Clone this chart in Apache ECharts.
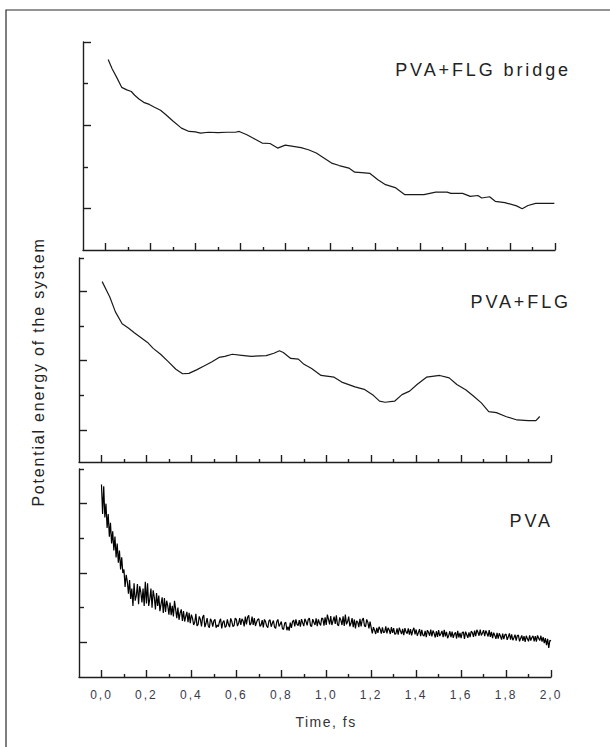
<!DOCTYPE html>
<html><head><meta charset="utf-8">
<script src="https://cdn.jsdelivr.net/npm/echarts@6.0.0/dist/echarts.min.js"></script>
<style>
html,body{margin:0;padding:0;background:#fff;}
#c{width:610px;height:747px;}
#c text{letter-spacing:1.6px;}
#c text[style*="12px"]{letter-spacing:2px;}
#c text[style*="14px"]{letter-spacing:1.5px;}
#c text[style*="16px"]{letter-spacing:1.8px;}
#c text[style*="18px"]{letter-spacing:2.9px;}
</style></head>
<body><div id="c"></div>
<script>
// ---- tick labels ----
var xTickValues = [0,0.2,0.4,0.6,0.8,1.0,1.2,1.4,1.6,1.8,2.0];
var xMinorTickValues = [0.1,0.3,0.5,0.7,0.9,1.1,1.3,1.5,1.7,1.9];
var panelNames = ['PVA+FLG bridge','PVA+FLG','PVA'];
var xTitle = 'Time, fs';
var yTitle = 'Potential energy of the system';

// ---- PVA+FLG bridge ----
var p1Time = [0.012,0.030,0.050,0.072,0.095,0.115,0.130,0.149,0.170,0.195,0.218,0.245,0.269,0.300,0.338,0.372,0.400,0.423,0.458,0.500,0.540,0.578,0.595,0.629,0.660,0.697,0.732,0.766,0.800,0.835,0.870,0.903,0.938,0.970,1.006,1.040,1.083,1.109,1.140,1.177,1.212,1.246,1.289,1.332,1.380,1.417,1.469,1.520,1.537,1.589,1.623,1.657,1.674,1.709,1.734,1.777,1.829,1.854,1.880,1.914,1.960,1.997];
var p1Energy = [3.58,3.35,3.15,2.91,2.85,2.81,2.72,2.63,2.55,2.50,2.43,2.36,2.25,2.10,1.93,1.85,1.84,1.81,1.83,1.82,1.83,1.83,1.85,1.77,1.68,1.57,1.56,1.45,1.52,1.49,1.46,1.41,1.33,1.22,1.09,1.03,0.97,0.87,0.86,0.84,0.69,0.57,0.50,0.33,0.33,0.33,0.39,0.39,0.36,0.36,0.29,0.31,0.25,0.28,0.17,0.14,0.06,-0.01,0.07,0.12,0.12,0.12];

// ---- PVA+FLG ----
var p2Time = [0.003,0.037,0.062,0.092,0.121,0.146,0.205,0.230,0.263,0.297,0.331,0.361,0.389,0.423,0.456,0.490,0.523,0.549,0.582,0.624,0.666,0.733,0.767,0.792,0.809,0.842,0.876,0.901,0.935,0.977,1.035,1.069,1.128,1.169,1.211,1.237,1.262,1.304,1.337,1.371,1.404,1.446,1.505,1.547,1.581,1.622,1.656,1.690,1.723,1.757,1.799,1.849,1.899,1.933,1.950];
var p2Energy = [4.27,3.83,3.40,3.06,2.93,2.80,2.52,2.35,2.18,1.97,1.75,1.62,1.63,1.73,1.84,1.96,2.09,2.12,2.18,2.15,2.12,2.14,2.21,2.28,2.23,2.06,2.04,1.89,1.77,1.57,1.52,1.38,1.24,1.17,0.99,0.83,0.80,0.83,1.02,1.12,1.31,1.52,1.57,1.50,1.31,1.15,0.97,0.78,0.53,0.50,0.39,0.29,0.27,0.27,0.39];

// ---- PVA (sampled every 0.005 fs from 0) ----
var p3Start = 0, p3Step = 0.005;
var p3Energy = [
 4.55,3.70,4.50,3.60,4.00,3.30,3.70,3.05,3.45,2.85,3.20,2.65,3.05,2.45,2.85,2.30,2.65,2.10,2.45,2.00,
 2.10,1.60,1.95,1.75,1.40,1.80,1.25,1.55,1.05,1.70,1.20,1.35,1.68,1.10,1.62,1.45,1.15,1.55,1.05,1.75,
 1.12,1.70,1.05,1.25,1.55,1.00,1.50,1.30,0.95,1.42,1.05,1.35,0.90,1.10,1.30,0.85,1.28,0.88,1.20,1.05,
 0.80,1.15,0.78,1.05,0.75,1.20,0.95,0.70,1.00,0.65,0.85,0.95,0.62,0.90,0.60,0.75,0.88,0.58,0.85,0.55,
 0.80,0.70,0.50,0.58,0.82,0.47,0.52,0.75,0.66,0.46,0.72,0.79,0.44,0.55,0.70,0.48,0.42,0.68,0.61,0.45,
 0.62,0.66,0.42,0.50,0.45,0.60,0.68,0.40,0.58,0.63,0.43,0.47,0.66,0.52,0.44,0.69,0.60,0.45,0.49,0.70,
 0.66,0.47,0.55,0.70,0.50,0.68,0.62,0.46,0.74,0.52,0.72,0.78,0.50,0.54,0.74,0.50,0.70,0.47,0.58,0.66,
 0.68,0.46,0.50,0.64,0.43,0.66,0.60,0.47,0.42,0.62,0.65,0.45,0.55,0.63,0.44,0.40,0.60,0.66,0.46,0.52,
 0.60,0.40,0.37,0.55,0.58,0.35,0.45,0.34,0.57,0.42,0.60,0.64,0.46,0.66,0.52,0.48,0.64,0.45,0.67,0.56,
 0.47,0.68,0.60,0.49,0.66,0.70,0.48,0.46,0.67,0.58,0.50,0.69,0.47,0.66,0.55,0.49,0.70,0.68,0.48,0.72,
 0.50,0.80,0.66,0.52,0.76,0.50,0.62,0.74,0.53,0.78,0.51,0.48,0.72,0.64,0.50,0.75,0.47,0.80,0.52,0.60,
 0.74,0.46,0.55,0.70,0.44,0.66,0.40,0.62,0.58,0.44,0.68,0.46,0.64,0.70,0.48,0.45,0.66,0.58,0.40,0.60,
 0.42,0.26,0.44,0.35,0.24,0.42,0.27,0.45,0.38,0.25,0.43,0.28,0.30,0.46,0.26,0.42,0.36,0.24,0.44,0.27,
 0.41,0.23,0.25,0.40,0.22,0.42,0.33,0.24,0.39,0.21,0.41,0.30,0.25,0.40,0.22,0.38,0.20,0.34,0.42,0.23,
 0.37,0.19,0.28,0.38,0.18,0.36,0.21,0.18,0.33,0.15,0.35,0.29,0.19,0.37,0.17,0.34,0.26,0.14,0.32,0.16,
 0.35,0.18,0.25,0.33,0.15,0.36,0.17,0.30,0.12,0.20,0.32,0.15,0.31,0.13,0.24,0.29,0.11,0.33,0.14,0.27,
 0.12,0.28,0.30,0.10,0.31,0.22,0.13,0.29,0.15,0.32,0.28,0.16,0.34,0.18,0.36,0.29,0.19,0.37,0.20,0.27,
 0.35,0.18,0.34,0.26,0.17,0.35,0.16,0.30,0.12,0.28,0.20,0.10,0.27,0.11,0.26,0.18,0.08,0.25,0.09,0.22,
 0.24,0.07,0.16,0.26,0.08,0.23,0.06,0.13,0.22,0.05,0.19,0.21,0.03,0.12,0.20,0.04,0.18,0.01,0.19,0.10,
 0.03,0.20,0.05,0.14,0.19,0.03,0.18,0.02,0.20,0.12,0.05,0.19,0.02,0.15,-0.02,0.12,-0.08,0.10,-0.16,0.06,
 0.04
];

// ---- y tick positions (arbitrary energy units, no labels) ----
var yMajorTicks = [0,2,4];
var yMinorTicks = [[1,3],[1,3,4.95],[1,3,5]];
var yRanges = [[-1,4],[-0.92,4.95],[-1,5]];

function zip(a,b){var r=[];for(var i=0;i<a.length;i++)r.push([a[i],b[i]]);return r;}
var p3Data = p3Energy.map(function(v,i){return [+(p3Start+i*p3Step).toFixed(3), v];});

var grids = [
  {left:83, top:42, width:472, height:208},
  {left:79, top:258, width:472, height:204},
  {left:79, top:469, width:472, height:208}
];
var axisColor = '#1e1e1e';
var xAxes = [], yAxes = [];
grids.forEach(function(g,gi){
  var last = gi===2;
  xAxes.push({type:'value', gridIndex:gi, min:-0.1, max:2.0, position:'bottom',
    axisLine:{show:true, onZero:false, lineStyle:{color:axisColor, width:1.4}},
    axisTick:{show:true, inside:true, length:7, customValues:xTickValues, lineStyle:{color:axisColor,width:1.4}},
    axisLabel:{show:last, customValues:xTickValues, margin:12, fontFamily:'Liberation Sans', fontSize:12, color:'#3a3a4a',
      formatter:function(v){return v.toFixed(1).replace('.',',');}},
    splitLine:{show:false}});
  xAxes.push({type:'value', gridIndex:gi, min:-0.1, max:2.0, position:'bottom',
    axisLine:{show:false, onZero:false},
    axisTick:{show:true, inside:true, length:3, customValues:xMinorTickValues, lineStyle:{color:axisColor,width:1.4}},
    axisLabel:{show:false}, splitLine:{show:false}});
  yAxes.push({type:'value', gridIndex:gi, min:yRanges[gi][0], max:yRanges[gi][1], position:'left',
    axisLine:{show:true, onZero:false, lineStyle:{color:axisColor, width:1.4}},
    axisTick:{show:true, inside:true, length:8, customValues:yMajorTicks, lineStyle:{color:axisColor,width:1.4}},
    axisLabel:{show:false}, splitLine:{show:false}});
  yAxes.push({type:'value', gridIndex:gi, min:yRanges[gi][0], max:yRanges[gi][1], position:'left',
    axisLine:{show:false, onZero:false},
    axisTick:{show:true, inside:true, length:5, customValues:yMinorTicks[gi], lineStyle:{color:axisColor,width:1.4}},
    axisLabel:{show:false}, splitLine:{show:false}});
});

var lineCol = '#1a1a1a';
var chart = echarts.init(document.getElementById('c'), null, {renderer:'svg'});
chart.setOption({
  animation:false,
  backgroundColor:'#fff',
  grid:grids,
  xAxis:xAxes,
  yAxis:yAxes,
  series:[
    {type:'line', xAxisIndex:0, yAxisIndex:0, data:zip(p1Time,p1Energy), showSymbol:false, symbol:'none', lineStyle:{color:lineCol,width:1.2}},
    {type:'line', xAxisIndex:2, yAxisIndex:2, data:zip(p2Time,p2Energy), showSymbol:false, symbol:'none', lineStyle:{color:lineCol,width:1.2}},
    {type:'line', xAxisIndex:4, yAxisIndex:4, data:p3Data, showSymbol:false, symbol:'none', lineStyle:{color:'#000',width:1.2}}
  ],
  graphic:[
    {type:'rect', silent:true, shape:{x:6,y:10,width:700,height:800}, style:{fill:'none', stroke:'#2a2a2a', lineWidth:1.2}},
    {type:'text', x:571, y:70, style:{text:panelNames[0], font:'18px "Liberation Sans"', fill:'#222', textAlign:'right', textVerticalAlign:'middle'}},
    {type:'text', x:571, y:302, style:{text:panelNames[1], font:'18px "Liberation Sans"', fill:'#222', textAlign:'right', textVerticalAlign:'middle'}},
    {type:'text', x:553, y:521, style:{text:panelNames[2], font:'18px "Liberation Sans"', fill:'#222', textAlign:'right', textVerticalAlign:'middle'}},
    {type:'text', x:326, y:722, style:{text:xTitle, font:'14px "Liberation Sans"', fill:'#333', textAlign:'center', textVerticalAlign:'middle'}},
    {type:'text', x:38, y:372, rotation:Math.PI/2, style:{text:yTitle, font:'16px "Liberation Sans"', fill:'#222', textAlign:'center', textVerticalAlign:'middle'}}
  ]
});
</script></body></html>
